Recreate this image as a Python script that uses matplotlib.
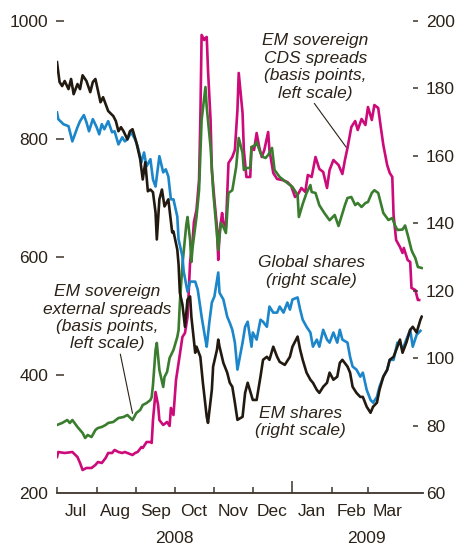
import numpy as np
import pandas as pd
import matplotlib
matplotlib.use("Agg")
import matplotlib.pyplot as plt
import matplotlib.dates as mdates
import matplotlib.transforms as mtransforms

# ---------------- data (days since 2008-07-01, values) ----------------
start = pd.Timestamp("2008-07-01")

em_shares_days = [0, 2, 4, 6, 9, 11, 13, 16, 18, 20, 23, 26, 28, 30, 34, 36, 40, 44, 46, 48, 50, 52, 55, 57, 59, 62, 65, 67, 69, 71, 73, 75, 77, 78, 80, 82, 84, 87, 90, 91, 94, 95, 96, 98, 100, 102, 104, 105, 108, 109, 112, 114, 117, 118, 121, 122, 125, 126, 127, 130, 133, 135, 137, 139, 141, 145, 147, 149, 153, 156, 159, 161, 164, 166, 169, 172, 174, 178, 182, 184, 188, 190, 192, 195, 198, 200, 203, 205, 208, 211, 213, 216, 219, 221, 223, 227, 229, 231, 234, 237, 239, 242, 245, 247, 250, 252, 255, 258, 260, 263, 266, 268, 270, 273, 276, 278, 281, 284, 285]
em_shares = [187.8, 181.9, 180.7, 182.2, 179.8, 182.8, 178.3, 181.3, 179.8, 183.9, 182.2, 178.9, 181.9, 182.8, 175.9, 177.4, 173.3, 171.8, 170.3, 167.3, 168.5, 167.3, 164.9, 167.3, 167.9, 164.0, 159.0, 153.0, 158.1, 149.5, 150.0, 149.2, 143.2, 135.2, 147.1, 150.0, 145.0, 147.1, 137.3, 137.6, 132.2, 127.8, 119.4, 115.9, 109.3, 117.4, 118.3, 112.3, 101.6, 103.4, 100.4, 92.7, 82.6, 80.8, 90.6, 97.5, 102.5, 105.5, 103.4, 98.6, 95.7, 92.7, 91.5, 86.8, 81.7, 82.6, 89.7, 92.7, 87.6, 87.6, 94.5, 99.5, 100.4, 99.5, 103.4, 100.4, 98.9, 98.0, 100.4, 103.4, 106.4, 102.5, 99.5, 95.7, 93.6, 92.7, 90.6, 89.7, 91.5, 92.7, 95.7, 93.6, 94.5, 98.6, 99.5, 97.5, 95.7, 91.5, 89.7, 88.5, 88.5, 85.6, 83.8, 85.6, 86.8, 90.6, 94.5, 96.5, 99.5, 100.4, 103.4, 105.5, 101.6, 104.6, 108.4, 109.3, 107.6, 111.4, 112.3]

global_shares_days = [0, 1, 5, 9, 12, 16, 18, 21, 23, 25, 28, 31, 33, 35, 37, 40, 43, 45, 48, 51, 53, 55, 58, 61, 63, 66, 68, 70, 73, 75, 77, 80, 83, 85, 87, 89, 91, 94, 95, 98, 99, 102, 104, 106, 108, 110, 113, 116, 117, 119, 121, 123, 126, 127, 130, 133, 135, 137, 139, 141, 145, 147, 149, 152, 153, 156, 159, 161, 164, 166, 169, 172, 174, 177, 180, 182, 184, 188, 190, 192, 195, 198, 200, 203, 205, 208, 211, 213, 216, 219, 221, 223, 227, 229, 231, 234, 237, 239, 242, 245, 247, 250, 252, 255, 258, 260, 263, 266, 268, 270, 273, 276, 278, 281, 284]
global_shares = [172.9, 170.9, 169.4, 168.8, 164.3, 168.5, 170.3, 172.1, 170.0, 167.3, 170.9, 168.5, 166.4, 169.4, 167.9, 170.3, 167.0, 167.3, 163.4, 165.5, 164.3, 164.9, 167.0, 164.9, 162.9, 158.1, 161.0, 156.9, 159.0, 153.0, 150.9, 159.9, 155.1, 156.0, 153.9, 147.1, 147.1, 142.0, 135.2, 130.2, 125.7, 119.7, 122.7, 122.7, 122.7, 120.3, 112.3, 105.5, 103.4, 110.5, 116.5, 118.3, 125.4, 119.4, 117.4, 112.3, 110.5, 108.4, 104.6, 96.6, 104.6, 109.3, 110.8, 103.4, 107.6, 105.5, 111.4, 110.8, 109.3, 115.3, 113.5, 113.5, 115.3, 113.5, 116.5, 114.4, 117.4, 118.0, 114.4, 111.4, 109.3, 107.6, 103.4, 105.5, 103.4, 108.4, 105.5, 104.6, 107.6, 104.6, 108.4, 105.5, 104.6, 100.4, 97.5, 96.6, 94.5, 95.7, 90.6, 87.6, 86.8, 88.5, 91.5, 94.5, 96.6, 99.5, 99.5, 104.6, 104.6, 102.5, 105.5, 108.4, 103.4, 106.9, 108.1]

cds_days = [0, 1, 6, 12, 16, 18, 20, 23, 27, 30, 32, 35, 38, 40, 43, 45, 48, 51, 53, 55, 59, 61, 63, 66, 67, 70, 73, 74, 75, 77, 79, 80, 83, 86, 88, 89, 91, 93, 95, 98, 100, 102, 103, 104, 106, 107, 109, 111, 112, 113, 115, 116, 117, 118, 120, 121, 123, 125, 126, 127, 129, 130, 132, 134, 137, 139, 141, 142, 145, 146, 148, 151, 152, 154, 156, 158, 160, 162, 165, 166, 169, 172, 176, 180, 183, 186, 188, 191, 194, 196, 199, 202, 205, 208, 211, 213, 216, 220, 223, 225, 227, 230, 233, 235, 238, 241, 243, 246, 248, 251, 253, 255, 258, 260, 262, 263, 265, 268, 270, 271, 274, 276, 277, 280, 282, 283]
cds = [261, 269.5, 267.8, 269.5, 261, 250.9, 239.0, 242.4, 242.4, 247.5, 252.5, 250.9, 259.3, 267.8, 267.8, 272.9, 269.5, 267.8, 269.5, 267.8, 264.4, 267.8, 269.5, 277.9, 276.3, 286.4, 286.4, 284.8, 323.7, 371.2, 349.1, 323.7, 315.3, 320.4, 313.6, 344.1, 332.2, 391.6, 420.3, 464.4, 471.2, 498.3, 544.1, 591.5, 628.8, 659.3, 679.7, 730.5, 832.2, 976.3, 967.8, 971.2, 972.9, 917.0, 832.2, 747.5, 696.6, 650.9, 595.0, 640.7, 674.6, 659.3, 650.9, 759.3, 769.5, 781.4, 849.2, 911.9, 844.1, 781.4, 735.6, 735.6, 786.4, 781.4, 810.2, 786.4, 769.5, 781.4, 811.9, 781.4, 742.4, 732.2, 730.5, 727.1, 720.4, 701.7, 705.1, 717.0, 710.2, 739.0, 735.6, 769.5, 749.2, 744.1, 717.0, 747.5, 764.4, 755.9, 740.7, 764.4, 784.8, 820.3, 830.5, 815.3, 833.9, 823.7, 854.2, 832.2, 857.6, 852.5, 820.3, 789.8, 755.9, 742.4, 735.6, 671.2, 628.8, 617.0, 606.8, 615.3, 594.9, 591.5, 547.5, 544.1, 527.1, 527.1]

ext_days = [0, 4, 8, 10, 12, 16, 20, 22, 24, 27, 30, 32, 35, 38, 40, 44, 48, 52, 55, 59, 62, 65, 67, 70, 73, 74, 75, 77, 78, 80, 83, 84, 86, 88, 91, 94, 95, 96, 98, 101, 102, 104, 105, 106, 109, 111, 113, 116, 117, 120, 122, 124, 126, 128, 130, 132, 134, 137, 140, 142, 145, 146, 148, 151, 152, 155, 156, 159, 161, 163, 165, 168, 170, 174, 180, 184, 188, 189, 192, 195, 198, 199, 202, 205, 209, 213, 217, 220, 225, 227, 230, 233, 235, 238, 241, 243, 246, 248, 251, 253, 255, 259, 262, 264, 266, 270, 272, 274, 277, 278, 280, 282, 285]
ext = [315.3, 318.7, 323.7, 318.7, 323.7, 311.9, 301.7, 293.2, 298.3, 294.9, 306.8, 310.2, 311.9, 315.3, 318.7, 320.4, 327.1, 328.8, 332.2, 323.7, 335.6, 340.7, 349.1, 352.5, 357.6, 362.7, 383.0, 442.4, 454.3, 408.5, 379.7, 396.7, 405.1, 428.9, 442.4, 464.4, 476.3, 522.0, 586.5, 654.2, 667.8, 628.8, 591.5, 617.0, 667.8, 713.2, 832.2, 888.1, 854.2, 786.4, 713.2, 662.7, 611.9, 657.6, 650.9, 640.7, 708.5, 713.2, 752.6, 801.7, 776.3, 747.5, 750.9, 750.9, 786.4, 789.8, 794.9, 776.3, 769.5, 767.8, 772.9, 784.8, 747.5, 735.6, 725.4, 718.7, 705.1, 667.8, 689.8, 708.5, 722.0, 710.2, 708.5, 687.7, 674.2, 662.3, 671.2, 652.5, 688.0, 700.0, 701.7, 688.0, 691.5, 684.8, 691.5, 693.2, 708.5, 713.2, 708.5, 691.5, 674.6, 662.7, 666.1, 654.2, 645.8, 646.5, 653.4, 638.0, 611.9, 606.8, 598.3, 583.1, 581.4]

left_ticks = [200, 400, 600, 800, 1000]
right_ticks = [60, 80, 100, 120, 140, 160, 180, 200]
month_labels = ["Jul", "Aug", "Sep", "Oct", "Nov", "Dec", "Jan", "Feb", "Mar"]
years = ["2008", "2009"]


def to_dates(days):
    return start + pd.to_timedelta(days, unit="D")


# ---------------- style ----------------
FONT = ["Liberation Sans Narrow", "Liberation Sans", "DejaVu Sans"]
plt.rcParams["font.family"] = FONT
TXT = "#2b2218"
AXC = "#3d342b"
C_CDS = "#cc0a7a"
C_EXT = "#3b7d2e"
C_GLB = "#1b86c9"
C_EM = "#221a10"
LW = 1.9
PX = 72 / 100  # points per pixel

fig = plt.figure(figsize=(4.57, 5.46), dpi=100)
ax = fig.add_axes([57 / 457, 1 - 493 / 546, (423 - 57) / 457, (493 - 21) / 546])
ax2 = ax.twinx()

ax.plot(to_dates(cds_days), cds, color=C_CDS, lw=LW, solid_joinstyle="round")
ax.plot(to_dates(ext_days), ext, color=C_EXT, lw=LW, solid_joinstyle="round")
ax2.plot(to_dates(global_shares_days), global_shares, color=C_GLB, lw=LW, solid_joinstyle="round")
ax2.plot(to_dates(em_shares_days), em_shares, color=C_EM, lw=LW, solid_joinstyle="round")

ax.set_ylim(200, 1000)
ax2.set_ylim(60, 200)
ax.set_xlim(pd.Timestamp("2008-07-01"), pd.Timestamp("2009-04-13"))

for a in (ax, ax2):
    a.patch.set_visible(False)
    a.spines["top"].set_visible(False)
ax2.spines["bottom"].set_visible(False)
ax.spines["bottom"].set_color(AXC)
ax.spines["bottom"].set_linewidth(1.3)

# left axis: spine moved inward, invisible; ticks point outward (left)
ax.spines["left"].set_position(("axes", 7 / 366))
ax.spines["left"].set_visible(False)
ax.spines["right"].set_visible(False)
ax.set_yticks(left_ticks)
ax.set_yticklabels([str(v) for v in left_ticks])
ax.tick_params(axis="y", which="major", left=True, right=False, direction="out",
               length=8 * PX, width=1.1, color=AXC, pad=8 * PX,
               labelsize=12.5, labelcolor=TXT)
ax.yaxis.get_major_ticks()[0].tick1line.set_visible(False)

# right axis
ax2.spines["left"].set_visible(False)
ax2.spines["right"].set_position(("axes", (413 - 57) / 366))
ax2.spines["right"].set_visible(False)
ax2.set_yticks(right_ticks)
ax2.set_yticklabels([str(v) for v in right_ticks])
ax2.tick_params(axis="y", which="major", right=True, left=False, direction="out",
                length=5 * PX, width=1.1, color=AXC, pad=8 * PX,
                labelsize=12.5, labelcolor=TXT)
ax2.yaxis.get_major_ticks()[0].tick2line.set_visible(False)

# x axis: month boundary ticks + mid-month labels
month_starts = pd.date_range("2008-07-01", "2009-03-01", freq="MS")
ax.set_xticks(month_starts)
ax.set_xticklabels([""] * len(month_starts))
ax.tick_params(axis="x", which="major", direction="in", length=4, width=1.1, color=AXC)
for t, d in zip(ax.xaxis.get_major_ticks(), month_starts):
    if d.month == 1:
        t.tick1line.set_markersize(9)
mids = month_starts + pd.Timedelta(days=15)
ax.set_xticks(mids, minor=True)
ax.set_xticklabels(month_labels, minor=True)
ax.tick_params(axis="x", which="minor", length=0, pad=8, labelsize=12.5, labelcolor=TXT)

trans = mtransforms.blended_transform_factory(ax.transData, ax.transAxes)
ax.text(pd.Timestamp("2008-10-01"), -0.097, years[0], transform=trans, ha="center",
        va="center", fontsize=12.5, color=TXT)
ax.text(pd.Timestamp("2009-02-28"), -0.097, years[1], transform=trans, ha="center",
        va="center", fontsize=12.5, color=TXT)

# annotations
tkw = dict(ha="center", va="center", fontsize=12.5, style="italic", color=TXT,
           linespacing=1.2)
ax.annotate("EM sovereign\nCDS spreads\n(basis points,\nleft scale)",
            xy=(pd.Timestamp("2009-02-12"), 786), xytext=(pd.Timestamp("2009-01-19"), 922),
            textcoords="data", arrowprops=dict(arrowstyle="-", color=TXT, lw=0.8,
                                               shrinkA=0, shrinkB=0, relpos=(0.47, 0.0)),
            **tkw)
ax.annotate("EM sovereign\nexternal spreads\n(basis points,\nleft scale)",
            xy=(pd.Timestamp("2008-08-29"), 335), xytext=(pd.Timestamp("2008-08-09"), 497),
            textcoords="data", arrowprops=dict(arrowstyle="-", color=TXT, lw=0.8,
                                               shrinkA=0, shrinkB=0, relpos=(0.6, 0.0)),
            **tkw)
ax2.text(pd.Timestamp("2009-01-16"), 125.7, "Global shares\n(right scale)", **tkw)
ax2.text(pd.Timestamp("2009-01-07"), 81.1, "EM shares\n(right scale)", **tkw)

fig.savefig("out.png", dpi=100)
